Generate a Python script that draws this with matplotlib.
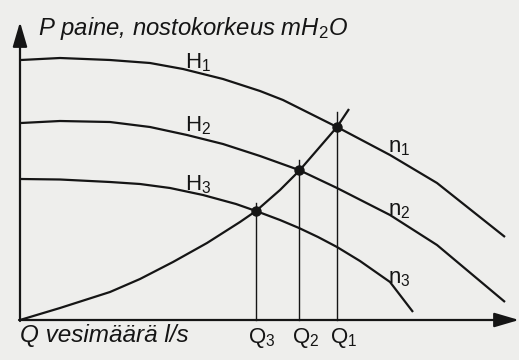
import matplotlib
matplotlib.use("Agg")
import matplotlib.pyplot as plt

plt.rcParams["font.family"] = ["Liberation Sans", "DejaVu Sans"]
plt.rcParams["mathtext.fontset"] = "custom"
plt.rcParams["mathtext.rm"] = "Liberation Sans"
plt.rcParams["mathtext.it"] = "Liberation Sans:italic"
plt.rcParams["mathtext.bf"] = "Liberation Sans:bold"

# Pump curves H(Q) at three speeds n1 > n2 > n3
q_h1 = [1, 40, 90, 130, 163, 203, 240, 263, 317, 370, 417, 485]
h_h1 = [260, 262, 260, 257, 251, 241, 229, 220, 193, 165, 137, 83]

q_h2 = [1, 40, 90, 130, 167, 203, 240, 279, 317, 370, 417, 485]
h_h2 = [197, 199, 198, 193, 185, 176, 164, 150, 132, 105, 75, 18]

q_h3 = [1, 40, 90, 120, 150, 183, 216, 236, 260, 279, 298, 317, 340, 370, 393]
h_h3 = [141, 140.5, 138, 136, 132, 125, 116, 109, 100, 92, 83, 73, 59, 38, 8]

# System (pipe network) curve
q_sys = [0, 40, 90, 120, 153, 187, 220, 236, 260, 279, 298, 317, 329]
h_sys = [0, 12, 28, 41, 58, 77, 98, 109, 130, 149, 171, 193, 211]

# Operating points and their flow rates
q_op = [236, 279, 317]
h_op = [109, 150, 193]
h_drop_top = [117, 160, 208]
q_names = ["Q$_3$", "Q$_2$", "Q$_1$"]

curve_names = ["H$_1$", "H$_2$", "H$_3$"]
speed_names = ["n$_1$", "n$_2$", "n$_3$"]

ink = "#151515"
paper = "#eeeeec"

fig = plt.figure(figsize=(5.19, 3.6), dpi=100, facecolor=paper)
ax = fig.add_axes([0, 0, 1, 1])
ax.set_facecolor(paper)
ax.set_xlim(-20, 499)
ax.set_ylim(-40, 320)
ax.axis("off")

# Axes with arrow heads
arrow_kw = dict(arrowstyle="-|>,head_length=0.75,head_width=0.22",
                color=ink, lw=1.6, mutation_scale=20, shrinkA=0, shrinkB=0)
ax.annotate("", xy=(0, 298), xytext=(0, -1), arrowprops=arrow_kw)
ax.annotate("", xy=(499, 0), xytext=(-1, 0), arrowprops=arrow_kw)

for q, h in [(q_h1, h_h1), (q_h2, h_h2), (q_h3, h_h3)]:
    ax.plot(q, h, color=ink, lw=1.6, solid_capstyle="butt",
            solid_joinstyle="round")
ax.plot(q_sys, h_sys, color=ink, lw=1.6, solid_capstyle="butt",
        solid_joinstyle="round")

for q, top in zip(q_op, h_drop_top):
    ax.plot([q, q], [0, top], color=ink, lw=1.0)
ax.plot(q_op, h_op, "o", color=ink, ms=6.5)

ax.text(18, 285, "P paine, nostokorkeus mH$_2$O", fontsize=17.2, style="italic",
        color=ink, ha="left", va="baseline")
ax.text(0, -22, "Q vesimäärä l/s", fontsize=17.5, style="italic",
        color=ink, ha="left", va="baseline")

fs = 16
for name, hb in zip(curve_names, [252, 189, 130]):
    ax.text(165, hb, name, fontsize=fs, color=ink, ha="left", va="baseline")
for name, hb in zip(speed_names, [168, 105, 37]):
    ax.text(368, hb, name, fontsize=fs, color=ink, ha="left", va="baseline")
for name, qx in zip(q_names, [228, 272, 310]):
    ax.text(qx, -23, name, fontsize=fs, color=ink, ha="left", va="baseline")

fig.savefig("out.png", dpi=100, facecolor=paper)
